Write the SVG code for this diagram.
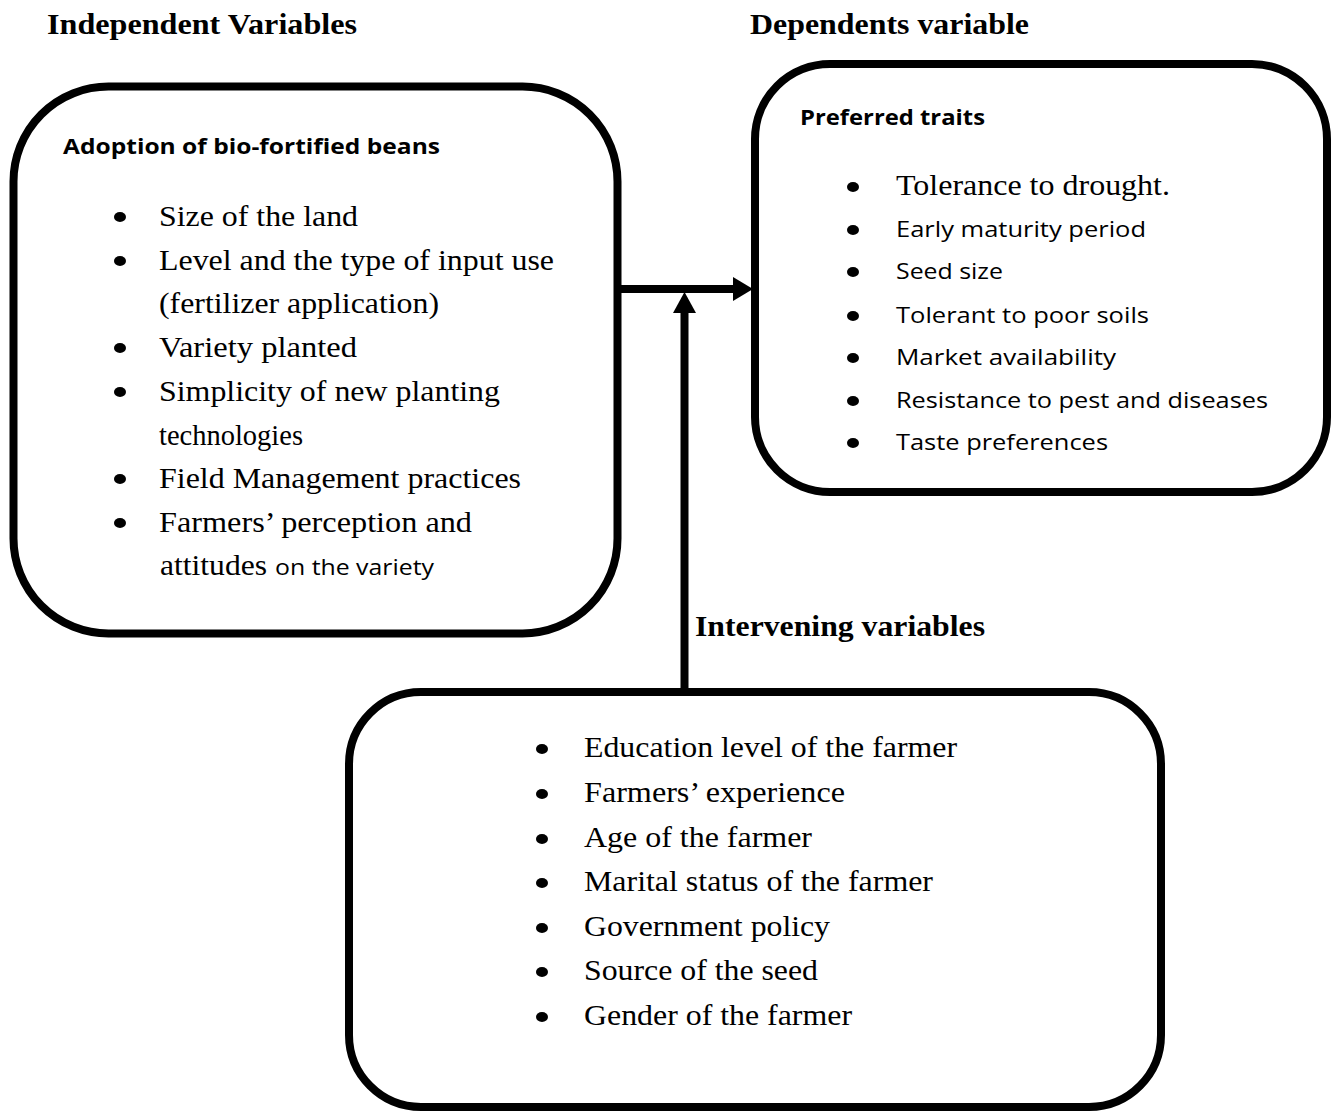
<svg xmlns="http://www.w3.org/2000/svg" width="1333" height="1112" viewBox="0 0 1333 1112">
<style>
.box{fill:#fff;stroke:#000;stroke-width:8}
.hd{font-family:"Liberation Serif","Times New Roman",serif;font-weight:bold;font-size:29px;fill:#000}
.sh{font-family:"Open Sans","Liberation Sans",sans-serif;font-weight:bold;font-size:21px;fill:#000}
.tr{font-family:"Liberation Serif","Times New Roman",serif;font-size:30px;fill:#000}
.sn{font-family:"Open Sans","Liberation Sans",sans-serif;font-size:22.5px;fill:#000}
.bl{fill:#000}
.ln{stroke:#000;stroke-width:8;fill:none}
</style>
<rect width="1333" height="1112" fill="#fff"/>
<text class="hd" x="47" y="34" textLength="310" lengthAdjust="spacingAndGlyphs">Independent Variables</text>
<text class="hd" x="750" y="34" textLength="279" lengthAdjust="spacingAndGlyphs">Dependents variable</text>
<text class="hd" x="695" y="636" textLength="290" lengthAdjust="spacingAndGlyphs">Intervening variables</text>

<g id="connectors">
<line class="ln" x1="617" y1="289" x2="733" y2="289"/>
<path d="M733,277 L753,289 L733,301 Z" fill="#000"/>
<line class="ln" x1="684.5" y1="692" x2="684.5" y2="312"/>
<path d="M673,313 L684.5,292 L696,313 Z" fill="#000"/>
</g>

<g id="independent">
<rect class="box" x="13.5" y="86.5" width="604" height="547" rx="95" ry="95"/>
<text class="sh" x="63" y="154" textLength="377" lengthAdjust="spacingAndGlyphs">Adoption of bio-fortified beans</text>
<ellipse class="bl" cx="120" cy="217" rx="6" ry="5"/>
<text class="tr" x="159" y="226" textLength="199" lengthAdjust="spacingAndGlyphs">Size of the land</text>
<ellipse class="bl" cx="120" cy="261" rx="6" ry="5"/>
<text class="tr" x="159" y="270" textLength="395" lengthAdjust="spacingAndGlyphs">Level and the type of input use</text>
<text class="tr" x="159" y="313" textLength="280" lengthAdjust="spacingAndGlyphs">(fertilizer application)</text>
<ellipse class="bl" cx="120" cy="348" rx="6" ry="5"/>
<text class="tr" x="159" y="357" textLength="198" lengthAdjust="spacingAndGlyphs">Variety planted</text>
<ellipse class="bl" cx="120" cy="392" rx="6" ry="5"/>
<text class="tr" x="159" y="401" textLength="341" lengthAdjust="spacingAndGlyphs">Simplicity of new planting</text>
<text class="tr" x="159" y="445" textLength="144" lengthAdjust="spacingAndGlyphs">technologies</text>
<ellipse class="bl" cx="120" cy="479" rx="6" ry="5"/>
<text class="tr" x="159" y="488" textLength="362" lengthAdjust="spacingAndGlyphs">Field Management practices</text>
<ellipse class="bl" cx="120" cy="523" rx="6" ry="5"/>
<text class="tr" x="159" y="532" textLength="313" lengthAdjust="spacingAndGlyphs">Farmers’ perception and</text>
<text class="tr" x="160" y="575" textLength="107" lengthAdjust="spacingAndGlyphs">attitudes</text>
<text class="sn" x="275" y="575" textLength="159" lengthAdjust="spacingAndGlyphs">on the variety</text>
</g>

<g id="dependent">
<rect class="box" x="755" y="64" width="572" height="428" rx="75" ry="75"/>
<text class="sh" x="800" y="125" textLength="185" lengthAdjust="spacingAndGlyphs">Preferred traits</text>
<ellipse class="bl" cx="853" cy="187" rx="6" ry="5"/>
<text class="tr" x="896" y="195" textLength="274" lengthAdjust="spacingAndGlyphs">Tolerance to drought.</text>
<ellipse class="bl" cx="853" cy="230" rx="6" ry="5"/>
<text class="sn" x="896" y="237" textLength="250" lengthAdjust="spacingAndGlyphs">Early maturity period</text>
<ellipse class="bl" cx="853" cy="272" rx="6" ry="5"/>
<text class="sn" x="896" y="279" textLength="107" lengthAdjust="spacingAndGlyphs">Seed size</text>
<ellipse class="bl" cx="853" cy="316" rx="6" ry="5"/>
<text class="sn" x="896" y="323" textLength="253" lengthAdjust="spacingAndGlyphs">Tolerant to poor soils</text>
<ellipse class="bl" cx="853" cy="358" rx="6" ry="5"/>
<text class="sn" x="896" y="365" textLength="220" lengthAdjust="spacingAndGlyphs">Market availability</text>
<ellipse class="bl" cx="853" cy="401" rx="6" ry="5"/>
<text class="sn" x="896" y="408" textLength="372" lengthAdjust="spacingAndGlyphs">Resistance to pest and diseases</text>
<ellipse class="bl" cx="853" cy="443" rx="6" ry="5"/>
<text class="sn" x="896" y="450" textLength="212" lengthAdjust="spacingAndGlyphs">Taste preferences</text>
</g>

<g id="intervening">
<rect class="box" x="349" y="692" width="812" height="415" rx="72" ry="72"/>
<ellipse class="bl" cx="542" cy="749" rx="6" ry="5"/>
<text class="tr" x="584" y="757" textLength="373" lengthAdjust="spacingAndGlyphs">Education level of the farmer</text>
<ellipse class="bl" cx="542" cy="794" rx="6" ry="5"/>
<text class="tr" x="584" y="802" textLength="261" lengthAdjust="spacingAndGlyphs">Farmers’ experience</text>
<ellipse class="bl" cx="542" cy="839" rx="6" ry="5"/>
<text class="tr" x="584" y="847" textLength="228" lengthAdjust="spacingAndGlyphs">Age of the farmer</text>
<ellipse class="bl" cx="542" cy="883" rx="6" ry="5"/>
<text class="tr" x="584" y="891" textLength="349" lengthAdjust="spacingAndGlyphs">Marital status of the farmer</text>
<ellipse class="bl" cx="542" cy="928" rx="6" ry="5"/>
<text class="tr" x="584" y="936" textLength="246" lengthAdjust="spacingAndGlyphs">Government policy</text>
<ellipse class="bl" cx="542" cy="972" rx="6" ry="5"/>
<text class="tr" x="584" y="980" textLength="234" lengthAdjust="spacingAndGlyphs">Source of the seed</text>
<ellipse class="bl" cx="542" cy="1017" rx="6" ry="5"/>
<text class="tr" x="584" y="1025" textLength="268" lengthAdjust="spacingAndGlyphs">Gender of the farmer</text>
</g>
</svg>
